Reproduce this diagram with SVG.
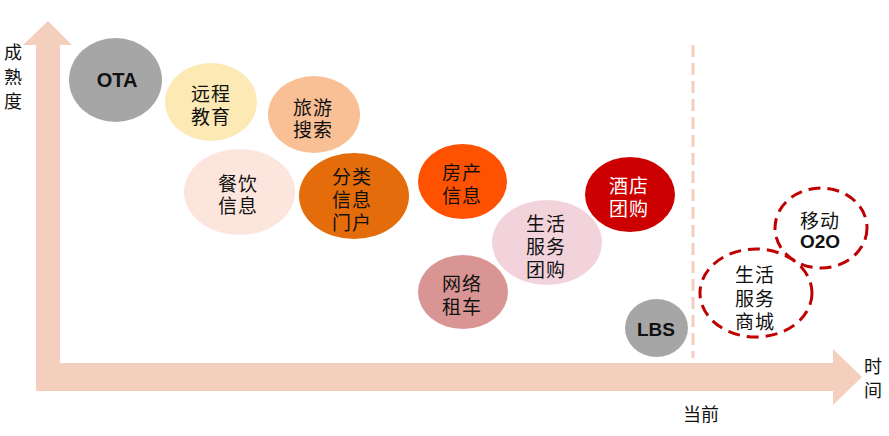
<svg xmlns="http://www.w3.org/2000/svg" width="889" height="436" viewBox="0 0 889 436">
<style>
.t{font-family:"Noto Sans CJK SC","Noto Sans",sans-serif;font-size:19px;fill:#111;text-anchor:middle;dominant-baseline:central;letter-spacing:1px}
.b{font-family:"Liberation Sans",Arial,sans-serif;font-weight:bold;font-size:20px;fill:#111;text-anchor:middle;dominant-baseline:central}
.ax{font-family:"Noto Sans CJK SC","Noto Sans",sans-serif;font-size:18px;fill:#111;text-anchor:middle;dominant-baseline:central}
.dash{fill:none;stroke:#C00000;stroke-width:3;stroke-dasharray:12 7}
</style>
<rect width="889" height="436" fill="#fff"/>
<g id="axes" fill="#F4CFBE">
<polygon points="36,45 23,45 48,21 72,45 60,45 60,363 833,363 833,349 862,377 833,405 833,391 36,391"/>
<line x1="693" y1="45" x2="693" y2="358" stroke="#F4CFBE" stroke-width="3" stroke-dasharray="12 6"/>
</g>
<g id="labels">
<text class="ax" x="13" y="51"><tspan x="13" y="51">成</tspan><tspan x="13" y="76">熟</tspan><tspan x="13" y="100">度</tspan></text>
<text class="ax"><tspan x="873" y="365">时</tspan><tspan x="873" y="389">间</tspan></text>
<text class="ax" x="701" y="413">当前</text>
</g>
<g id="n-ota"><ellipse cx="115.5" cy="80" rx="46.5" ry="42" fill="#A6A6A6"/><text class="b" x="117" y="80">OTA</text></g>
<g id="n-edu"><ellipse cx="211" cy="102" rx="46" ry="39" fill="#FCE9B4"/><text class="t"><tspan x="211" y="92">远程</tspan><tspan x="211" y="115">教育</tspan></text></g>
<g id="n-travel"><ellipse cx="314" cy="114.5" rx="46" ry="38.5" fill="#F9C095"/><text class="t"><tspan x="313" y="106">旅游</tspan><tspan x="313" y="128">搜索</tspan></text></g>
<g id="n-food"><ellipse cx="239.5" cy="192" rx="55.5" ry="43" fill="#FBE5DC"/><text class="t"><tspan x="238" y="182">餐饮</tspan><tspan x="238" y="204">信息</tspan></text></g>
<g id="n-classify"><ellipse cx="354" cy="196" rx="55" ry="43" fill="#E46C0A"/><text class="t"><tspan x="352" y="175">分类</tspan><tspan x="352" y="198">信息</tspan><tspan x="352" y="221">门户</tspan></text></g>
<g id="n-house"><ellipse cx="462.5" cy="181.5" rx="44.5" ry="37.5" fill="#FE5200"/><text class="t"><tspan x="462" y="171">房产</tspan><tspan x="462" y="194">信息</tspan></text></g>
<g id="n-life"><ellipse cx="547" cy="242.5" rx="55" ry="42.5" fill="#F2D3DC"/><text class="t"><tspan x="546" y="222">生活</tspan><tspan x="546" y="245">服务</tspan><tspan x="546" y="268">团购</tspan></text></g>
<g id="n-car"><ellipse cx="463" cy="292" rx="45" ry="37" fill="#D99594"/><text class="t"><tspan x="462" y="282">网络</tspan><tspan x="462" y="305">租车</tspan></text></g>
<g id="n-hotel"><ellipse cx="630" cy="194.5" rx="45" ry="37.5" fill="#CC0000"/><text class="t" style="fill:#fff"><tspan x="629" y="184">酒店</tspan><tspan x="629" y="207">团购</tspan></text></g>
<g id="n-lbs"><ellipse cx="656.5" cy="328" rx="31.5" ry="29" fill="#A6A6A6"/><text class="b" x="656" y="329" style="font-size:19px">LBS</text></g>
<g id="n-mall"><ellipse class="dash" cx="756" cy="293" rx="56" ry="44"/><text class="t"><tspan x="755" y="273">生活</tspan><tspan x="755" y="297">服务</tspan><tspan x="755" y="320">商城</tspan></text></g>
<g id="n-o2o"><ellipse class="dash" cx="821" cy="228" rx="46" ry="40"/><text class="t"><tspan x="820" y="219">移动</tspan><tspan x="820" y="241" style="font-family:'Liberation Sans',Arial,sans-serif;font-weight:bold;letter-spacing:0">O2O</tspan></text></g>
</svg>
